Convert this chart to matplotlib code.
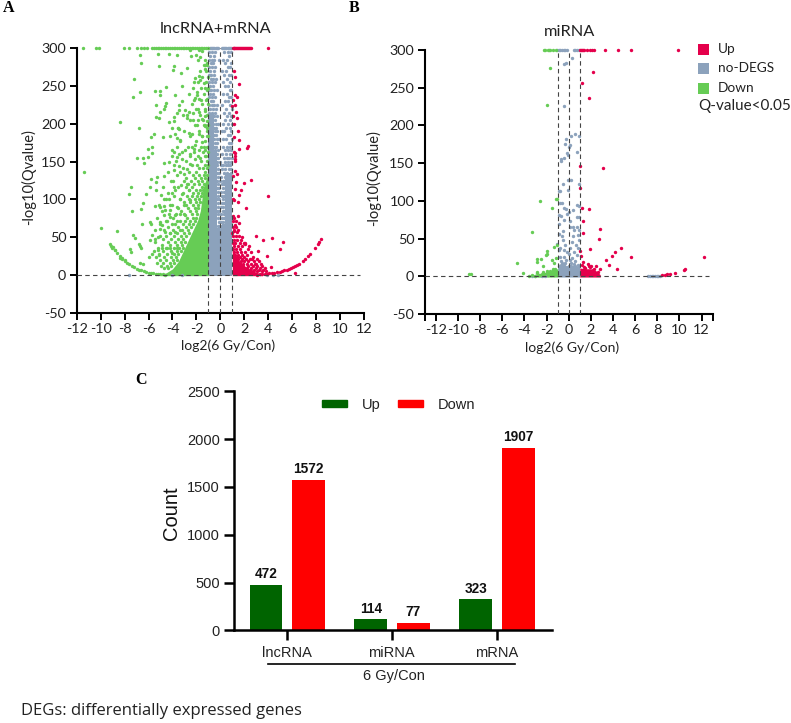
import matplotlib
matplotlib.use("Agg")
import matplotlib.pyplot as plt
from matplotlib.patches import Patch

plt.rcParams["axes.unicode_minus"] = False
W, H = 791, 723
UI = "Lato"
ARIAL = "Liberation Sans"
SERIF = "Liberation Serif"
RED, GRAY, GREEN = "#E4004B", "#8CA2BC", "#66CC55"

# ---------- Panel A: lncRNA+mRNA ----------
a_top_down_x = [-11.5,-10.36,-10.17,-8.06,-7.64,-6.94,-6.67,-6.39,-6.1,-5.7,-5.55,-5.4,-5.25,-5.1,-4.95,-4.8,-4.65,-4.5,-4.35,-4.2,-4.05,-3.9,-3.75,-3.6,-3.45,-3.3,-3.15,-3.0,-2.85,-2.7,-2.55,-2.4,-2.25,-2.1,-1.95,-1.8,-1.65,-1.5,-1.35,-1.2,-1.05]
a_top_up_x = [1.02,1.1,1.18,1.26,1.34,1.42,1.5,1.58,1.66,1.74,1.82,1.9,1.98,2.06,2.14,2.22,2.3,2.4,2.5,2.6,3.95]
a_top_gray_x = [-1.0,-0.9,-0.8,-0.7,-0.6,-0.5,-0.4,-0.3,-0.2,0.12,0.2,0.3,0.4,0.5,0.6,0.7,0.8,0.9]

a_down_x = [-6.68,-5.2,-4.3,-3.6,-2.5,-2.45,-2.0,-1.8,-1.5,-1.67,-6.62,-5.12,-3.9,-3.95,-2.78,-1.25,-1.1,-1.25,
 -7.24,-3.25,-1.8,-2.08,-2.2,-1.67,-1.4,-3.2,-5.0,-6.73,-7.32,-4.56,-5.45,-5.0,-3.8,-1.95,-1.25,-1.1,-1.95,-2.17,-2.1,-1.61,-1.16,-3.17,-3.48,
 -4.56,-5.37,-4.6,-4.67,-3.48,-5.07,-2.92,-2.64,-2.3,-1.89,-1.8,-1.25,-3.6,-5.34,-5.15,-3.9,-2.78,-2.28,-2.78,-4.31,-3.9,-8.35,-1.85,-1.5,-1.25,-1.1,-3.56,
 -1.95,-6.82,-4.03,-3.56,-3.42,-1.25,-1.1,-1.4,-2.64,-2.36,-5.57,-5.76,-4.8,-4.23,-3.76,-3.62,-3.34,-1.8,-1.5,-1.1,-1.5,-2.08,-2.36,-2.22,-1.4,-1.25,-1.8,
 -5.7,-6.04,-3.62,-4.03,-2.92,-3.9,-3.48,-6.96,-6.46,-6.04,-5.7,-4.03,-3.62,-3.2,-2.5,-2.08,-1.67,-1.25,
 -11.42,-6.35,-4.73,-4.3,-3.9,-3.48,-3.9,-3.34,-2.78,-2.5,-3.05,-5.76,-5.29,-4.67,-5.34,-7.43,-5.84,-7.65,-5.37,-6.2,-3.95,-3.9,-3.25,-2.78,-2.64,-3.2,-4.03,
 -4.93,-4.73,-4.3,-3.34,-2.5,-6.49,-6.62,-7.38,-5.43,-5.0,-4.73,-4.17,-4.6,-4.17,-3.62,-3.05,-4.73,-4.17,-3.76,-3.34,-2.92,-6.54,-5.84,-5.76,-5.07,-4.87,-4.45,-4.03,-3.62,
 -9.94,-8.6,-7.32,-7.15,-5.7,-5.0,-5.43,-4.6,-4.17,-3.76,-3.34,-5.84,-5.23,-6.82,-6.74,-6.62,-7.57,-7.5,-9.13,-9.05,-8.83,-8.35,-8.2,-7.93,-5.98,-5.7,-5.23,-5.15,-4.87,-4.45,-4.17,-4.03,-3.62,-6.68,-6.46]
a_down_y = [291,292,293,291,298,290,291,298,296,289,281,277,277,271,274,278,280,273,
 260,267,263,261,256,258,254,250,243,242,236,249,243,238,238,242,247,245,238,231,234,232,232,230,225,
 228,225,224,220,218,216,218,216,215,220,216,217,214,209,208,209,212,205,208,202,204,203,205,207,210,204,195,
 198,195,194,195,193,197,195,199,188,187,186,182,183,184,186,181,178,186,184,184,176,172,170,167,170,165,166,
 170,167,170,165,165,163,160,155,155,156,162,158,156,154,160,153,155,157,
 136,148,148,150,145,144,139,136,140,147,134,127,130,131,123,117,116,107,112,107,125,117,119,121,112,107,108,
 106,101,101,100,99,95,87,84,91,90,91,93,86,86,90,92,79,77,79,81,79,67,70,67,70,66,72,68,72,
 62,58,53,49,53,61,48,57,55,57,59,46,50,41,38,35,34,31,38,36,33,23,21,20,24,28,33,26,35,35,35,29,35,16,14]

# green dots of the busy zone, listed row by row (row height, x values on that row)
a_down_rows_y = [285,278,270,262,255,247,240,233,226,219,212,205,198,191,184,177,170,163,157,151,146,141,136,132,128,124,120,116,112,108,104,100,96,92,88,84,80,76,72,68,64,60,56,52,48,44,40,36,32,28,24,20,16,12,9]
a_down_rows_x = [
 [-1.3,-1.9],[-1.4,-1.15],[-1.7,-1.2],[-1.5,-1.05],[-1.9,-1.2],[-2.3,-1.6,-1.05],[-2.6,-1.35],[-1.8,-1.15],[-2.4,-1.5,-1.05],[-2.0,-1.3],
 [-3.1,-1.7,-1.1],[-2.5,-1.45],[-2.15,-1.25,-1.05],[-3.0,-1.75,-1.15],[-2.5,-1.5,-1.05],[-3.4,-2.0,-1.3],[-2.7,-1.65,-1.1],[-3.2,-2.2,-1.45,-1.05],[-2.55,-1.85,-1.2],[-3.7,-2.9,-1.6,-1.1],
 [-2.35,-1.95,-1.3,-1.05],[-3.1,-1.75,-1.45,-1.15],[-4.4,-2.6,-2.05,-1.25],[-3.6,-2.3,-1.8,-1.4,-1.15],[-2.85,-2.1,-1.6,-1.3],[-4.15,-3.0,-2.45,-1.9,-1.5],[-2.7,-2.2,-1.75,-1.35],[-4.8,-3.5,-2.9,-2.35,-1.55],[-3.75,-2.6,-2.05,-1.7,-1.45],[-4.4,-3.1,-2.25,-1.85,-1.55],
 [-3.85,-2.8,-2.35,-1.95,-1.65],[-4.55,-3.35,-2.65,-2.15,-1.75],[-3.0,-2.5,-2.0,-1.7],[-5.15,-4.05,-2.85,-2.3,-1.9],[-3.55,-2.7,-2.15,-1.85],[-4.85,-3.25,-2.55,-2.05],[-4.25,-3.7,-3.0,-2.35,-1.95],[-5.3,-3.95,-2.8,-2.3,-2.0],[-4.55,-3.4,-2.95,-2.5,-2.15],[-5.0,-3.8,-3.15,-2.6,-2.25],
 [-4.35,-3.5,-2.85,-2.45],[-5.5,-4.7,-3.95,-3.2,-2.7],[-4.2,-3.6,-3.05,-2.6],[-5.05,-4.5,-3.85,-3.3,-2.9],[-4.75,-4.1,-3.5,-3.1],[-5.45,-4.35,-3.75,-3.3,-2.95],[-4.9,-4.2,-3.6,-3.2],[-5.25,-4.55,-3.9,-3.45,-3.1],[-5.55,-4.75,-4.15,-3.65,-3.3],[-5.1,-4.45,-3.9,-3.5],
 [-5.4,-4.7,-4.1,-3.7],[-5.05,-4.5,-3.95,-3.6],[-5.3,-4.75,-4.2,-3.85],[-4.95,-4.45,-4.1],[-4.7,-4.35]]
a_curve_l_x = [-9.2,-9.0,-8.8,-8.6,-8.4,-8.2,-8.0,-7.8,-7.6,-7.4,-7.2,-7.0,-6.8,-6.6,-6.4,-6.2,-6.0,-5.8,-5.6,-5.4,-5.2,-5.0,-4.8,-4.6]
a_curve_l_y = [41,37,33,29,25,22,19,16,14,12,10,8.5,7,6,5,4,3.2,2.6,2,1.6,1.2,0.9,0.6,0.3]

# grey dots listed row by row
a_gray_rows_y = [295,290,285,280,275,270,265,260,255,250,245,240,235,230,225,220,215,210,205,200,195,190,185,180,175,170,165,160,155,150,145,140,135,130,125,120,115,110,105,100,95,90,85,80,75,70,65]
a_gray_rows_x = [
 [-0.95,-0.7,-0.45,0.3,0.62,0.85],[-0.85,-0.55,0.75],[-0.98,-0.72,-0.5,-0.15,0.2,0.55],[-0.8,-0.6,0.35,0.9],[-0.95,-0.68,-0.42,0.62,0.8],[-0.85,-0.55,0.12,0.45],[-0.98,-0.75,-0.5,0.3,0.72,0.92],[-0.82,-0.6,-0.35,0.55],[-0.95,-0.7,-0.48,0.2,0.82],[-0.88,-0.62,0.4,0.65],
 [-0.98,-0.75,-0.52,-0.3,0.78,0.92],[-0.85,-0.6,0.25,0.55],[-0.95,-0.7,-0.45,0.7,0.88],[-0.82,-0.58,0.35,0.6],[-0.98,-0.72,-0.5,-0.28,0.15,0.82],[-0.88,-0.62,-0.38,0.5,0.95],[-0.95,-0.7,-0.45,0.3,0.72],[-0.85,-0.55,-0.32,0.58,0.88],[-0.98,-0.72,-0.48,0.42,0.8],[-0.62,-0.4,-0.22,0.2,0.65,0.95],
 [-0.52,-0.34,0.48,0.78],[-0.48,-0.28,0.1,0.32,0.9],[-0.55,-0.38,0.6,0.82],[-0.5,-0.3,-0.15,0.25,0.45,0.95],[-0.44,-0.26,0.7,0.88],[-0.52,-0.36,0.18,0.52,0.78],[-0.46,-0.22,0.35,0.62,0.92],[-0.4,-0.28,0.12,0.45,0.82],[-0.34,-0.18,0.28,0.58,0.72,0.95],[-0.26,-0.05,0.4,0.68,0.88],
 [-0.24,0.05,0.22,0.5,0.62,0.8],[-0.2,0.12,0.36,0.72,0.92],[-0.26,-0.1,0.28,0.55,0.85],[-0.18,0.08,0.4,0.62],[-0.24,-0.05,0.2,0.34],[-0.2,0.1,0.3],[-0.26,-0.12,0.24],[-0.18,0.05,0.3],[-0.22,0.15,0.32],[-0.25,-0.08,0.22],
 [-0.16,0.1,0.3],[-0.22,0.02,0.26],[-0.26,-0.1,0.18,0.32],[-0.18,0.06,0.28],[-0.22,0.12,0.3],[-0.12,0.04,0.24],[-0.2,-0.04,0.16]]
a_gray_zero_x = [-7.6,-4.0,-3.2,3.9,4.4,4.8]
a_gray_zero_y = [0,0,0,0,0,0]

a_up_x = [1.12,1.25,1.53,1.25,1.39,1.03,1.23,1.0,1.31,1.03,1.39,1.17,1.48,1.12,1.53,2.29,2.23,1.53,1.12,1.25,1.2,1.25,
 1.25,1.2,1.39,1.06,2.59,1.34,1.95,1.73,1.23,1.53,3.98,1.03,1.17,1.45,2.17,1.03,1.48,1.12,1.59,1.25,1.06,1.34,1.12,1.39,1.0,2.98,1.81,3.57,4.29,5.27,4.96,1.95,2.09,2.37,3.18,3.87,2.65,3.2,2.9,4.26,6.27]
a_up_y = [270,262,253,238,236,232,225,223,216,210,208,200,191,182,178,171,168,167,163,161,158,154,
 151,138,134,131,126,123,122,112,114,106,104,100,99,97,89,78,78,76,69,66,64,63,58,57,55,52,50,46,49,44,34,42,41,38,32,25,21,19,15,11,3]
a_up_rows_y = [72,60,52,46,42,38,34,30,27,24,21,18,15,12,9,7,5]
a_up_rows_x = [[1.05,1.3],[1.1,1.5],[1.05,1.28,1.55],[1.1,1.4,1.75],[1.05,1.25,1.6,2.1],[1.15,1.45,1.8],[1.05,1.3,1.6,2.3],[1.1,1.4,1.7,2.05,2.55],[1.2,1.5,1.85,2.25],[1.05,1.35,1.65,1.95,2.7],[1.2,1.5,1.8,2.15,2.45,3.1],[1.4,1.7,2.0,2.35,2.8],[1.6,1.9,2.2,2.6,3.0,3.4],[1.9,2.3,2.7,3.05,3.5],[2.2,2.6,2.95,3.3,3.75],[2.5,2.85,3.2,3.55],[2.7,3.1,3.45,3.85]]
a_curve_r_x = [8.39,8.22,8.13,7.91,7.52,7.3,7.05,6.88,6.6,6.4,6.27,6.05,5.9,5.7,5.57,5.35,5.15,4.95,4.74,4.5,4.3,4.1,3.9,3.7,3.5,3.3,3.07]
a_curve_r_y = [47,43,41,36,28,25,21,19,15,13,12,10,9,8,7,6,5,4.2,3.6,3,2.7,2.2,1.8,1.4,1,0.8,0.5]

# envelopes of the areas where the dots merge into a solid mass
a_down_mass_x = [-5.0,-4.5,-4.0,-3.5,-3.0,-2.5,-2.2,-1.9,-1.67,-1.4,-1.0]
a_down_mass_y = [0,3,8,18,35,52,62,72,85,117,135]
a_up_mass_x = [1.0,1.2,1.5,2.0,2.5,3.0,3.5]
a_up_mass_y = [35,27,20,12,7,3.5,1]
a_gray_mass_x = [-1.0,-0.5,-0.28,0.1,0.35,1.0]
a_gray_mass_y = [215,165,62,68,135,135]

# ---------- Panel B: miRNA ----------
b_top_down_x = [-2.25,-2.15,-1.9,-1.8,-1.65,-1.44,-1.14]
b_top_gray_x = [-1.05,-0.9,-0.75,-0.6,-0.45,-0.3,-0.15,0.45,0.6,0.75,0.9]
b_top_up_x = [1.0,1.1,1.2,1.3,1.4,1.65,1.9,2.07,2.3,3.3,4.46,5.63,9.85]
b_down_x = [-1.65,-1.98,-2.55,-1.17,-1.05,-1.5,-3.35,-1.29,-1.05,-4.7,-4.16,-1.95,-1.95,-2.04,-2.9,-2.9,-2.49,-1.47,-1.35,-1.14,-2.3,-2.84,-2.84,-9.04,-8.83,
 -3.6,-3.3,-3.0,-2.8,-2.6,-2.4,-2.2,-2.0,-1.8,-1.6,-1.5,-1.3,-1.1,-2.3,-2.0,-1.7,-1.45,-1.2,-1.9,-1.6,-1.3,-1.1,-1.4,-1.2]
b_down_y = [276,227,100,102,103,91,59,39,42,17,5,34,30,28,23,19,23,22,17,24,14,6,4,3,2.6,
 1,1.5,1,2,2,3,3,4,4,4,5,5,6,6,7,7,8,8,1.5,2,2,3,9,10]
b_gray_x = [0.3,-0.21,-0.45,-0.45,0.6,0.96,0.18,-0.21,-0.36,0.15,0.06,-0.15,-0.1,0.75,-0.45,-0.66,-0.69,-0.51,-0.06,0.21,-0.9,-0.75,-0.09,0.9,-0.81,-0.6,-0.45,-0.24,0.75,0.96,0.36,0.06,-0.15,-0.9,-0.66,0.75,-0.45,0.15,0.9,-0.9,0.15,0.39,0.45,-0.51,0.75,0.9,-0.9,-0.6,0.39,0.84,-1.05,-0.54,0.3,0.9,-0.3,-0.75,0.15,0.69,-0.9,-0.45,-0.15,0.45,0.84,-0.81,-0.45,0.0,0.3,0.75,-0.7,-0.3,0.1,0.6,
 -3.3,-3.0,-2.7,-2.4,-2.1,7.2,7.35,7.5,7.65,7.8,7.95,8.1,8.2,-0.6,-0.2,0.2,0.5,0.85,-0.9,-0.4,0.0,0.6]
b_gray_y = [289,283,281,226,188,186,186,182,176,174,172,163,161,165,157,155,153,122,128,128,113,113,114,122,97,97,90,89,94,93,88,85,82,81,80,79,74,73,79,69,66,66,61,60,66,61,56,53,53,55,43,48,46,48,41,38,38,41,35,35,32,32,37,26,26,29,24,28,20,18,22,20,
 1,1,2,1,1,0.5,0.5,0.5,1,0.5,1,0.5,1,18,21,17,16,15,14,16,13,14]
b_up_x = [1.02,3.14,2.16,1.2,1.83,0.99,1.23,1.83,1.26,1.29,2.84,2.75,1.89,1.05,1.1,1.26,1.2,4.73,4.16,3.95,3.41,3.6,4.34,5.66,12.2,10.4,10.5,9.6,9.13,8.9,8.7,8.4,
 1.8,1.9,2.05,2.3,2.5,1.5,2.65,2.8,1.35,1.7,2.2]
b_up_y = [146,144,271,256,236,117,91,89,73,58,63,49,36,33,27,19,15,38,32,27,21,15,9,25,26,8,9,4,3,2.7,2,1.3,
 14,12,13,9,13,11,6,9,12,16,8]
b_gray_mass_x = [-1.0,-0.6,-0.2,0.2,0.6,1.0]
b_gray_mass_y = [15,18,14,16,13,15]
b_down_mass_x = [-3.3,-2.6,-2.0,-1.5,-1.0]
b_down_mass_y = [1,3,6,8,10]
b_up_mass_x = [1.0,1.5,2.0,2.5,2.85]
b_up_mass_y = [11,10,10,7,2]

# ---------- Panel C: counts ----------
categories = ["lncRNA", "miRNA", "mRNA"]
up_counts = [472, 114, 323]
down_counts = [1572, 77, 1907]

y_ticks_volcano = [-50, 0, 50, 100, 150, 200, 250, 300]
x_ticks_volcano = [-12, -10, -8, -6, -4, -2, 0, 2, 4, 6, 8, 10, 12]
y_ticks_bar = [0, 500, 1000, 1500, 2000, 2500]
MS = 6.0

fig = plt.figure(figsize=(W / 100, H / 100), dpi=100)


def axes_px(left, right, top, bottom):
    return fig.add_axes([left / W, 1 - bottom / H, (right - left) / W, (bottom - top) / H])


def ftext(x, y, s, **kw):
    fig.text(x / W, 1 - y / H, s, **kw)


def flatten(rows_y, rows_x):
    xs, ys = [], []
    for yv, row in zip(rows_y, rows_x):
        xs.extend(row)
        ys.extend([yv] * len(row))
    return xs, ys


def style_volcano(ax, xlim, title, title_xy, xl_xy, yl_xy):
    ax.set_xlim(*xlim)
    ax.set_ylim(-50, 300)
    ax.set_yticks(y_ticks_volcano)
    ax.set_xticks(x_ticks_volcano)
    ax.tick_params(length=5, width=1.4, color="black", labelsize=10.4, pad=2.5)
    for lab in ax.get_xticklabels() + ax.get_yticklabels():
        lab.set_family(UI)
        lab.set_color("#222222")
    for s in ("top", "right"):
        ax.spines[s].set_visible(False)
    for s in ("left", "bottom"):
        ax.spines[s].set_linewidth(1.5)
    ftext(*title_xy, title, family=UI, fontsize=11.8, ha="center", va="center", color="#222222")
    ftext(*xl_xy, "log2(6 Gy/Con)", family=UI, fontsize=10, ha="center", va="center", color="#222222")
    ftext(*yl_xy, "-log10(Qvalue)", family=UI, fontsize=10.5, ha="center", va="center", rotation=90, color="#222222")
    for v in (-1, 0, 1):
        ax.axvline(v, color="#444444", lw=0.8, dashes=(4, 3), zorder=6)
    ax.plot([xlim[0], xlim[1] * 0.975], [0, 0], color="#444444", lw=0.8, dashes=(4, 3), zorder=6, clip_on=False)


def dots(ax, xs, ys, c, z=3):
    ax.scatter(xs, ys, s=MS, c=c, linewidths=0, zorder=z, clip_on=False)


# ---- A ----
axA = axes_px(76.7, 364, 48.3, 312.7)
axA.fill_between(a_gray_mass_x, -2, a_gray_mass_y, step="post", color=GRAY, lw=0, zorder=2)
axA.fill_between(a_down_mass_x, -1, a_down_mass_y, color=GREEN, lw=0, zorder=2)
axA.fill_between(a_up_mass_x, -1, a_up_mass_y, color=RED, lw=0, zorder=2)
dots(axA, *flatten(a_gray_rows_y, a_gray_rows_x), GRAY)
dots(axA, a_gray_zero_x, a_gray_zero_y, GRAY)
dots(axA, a_top_gray_x, [300] * len(a_top_gray_x), GRAY)
dots(axA, a_top_down_x, [300] * len(a_top_down_x), GREEN)
dots(axA, a_top_up_x, [300] * len(a_top_up_x), RED)
dots(axA, a_down_x, a_down_y, GREEN)
dots(axA, *flatten(a_down_rows_y, a_down_rows_x), GREEN)
dots(axA, a_curve_l_x, a_curve_l_y, GREEN)
dots(axA, a_up_x, a_up_y, RED)
dots(axA, *flatten(a_up_rows_y, a_up_rows_x), RED)
dots(axA, a_curve_r_x, a_curve_r_y, RED)
style_volcano(axA, (-12, 12), "lncRNA+mRNA", (216, 29), (228, 346), (29, 177))

# ---- B ----
axB = axes_px(424.7, 712.7, 50, 314)
axB.fill_between(b_gray_mass_x, -1, b_gray_mass_y, color=GRAY, lw=0, zorder=2)
axB.fill_between(b_down_mass_x, -1, b_down_mass_y, color=GREEN, lw=0, zorder=2)
axB.fill_between(b_up_mass_x, -1, b_up_mass_y, color=RED, lw=0, zorder=2)
dots(axB, b_gray_x, b_gray_y, GRAY)
dots(axB, b_top_gray_x, [300] * len(b_top_gray_x), GRAY)
dots(axB, b_top_down_x, [300] * len(b_top_down_x), GREEN)
dots(axB, b_top_up_x, [300] * len(b_top_up_x), RED)
dots(axB, b_down_x, b_down_y, GREEN)
dots(axB, b_up_x, b_up_y, RED)
style_volcano(axB, (-13, 13), "miRNA", (570, 32), (572, 348), (374, 178))
axB.set_xticks([-13, 13], minor=True)
axB.tick_params(which="minor", length=5, width=1.4)

# legend of A/B
for yy, col, lab in ((49, RED, "Up"), (68, GRAY, "no-DEGS"), (88, GREEN, "Down")):
    fig.patches.append(plt.Rectangle((697.5 / W, 1 - (yy + 5.5) / H), 11.5 / W, 11 / H, transform=fig.transFigure, fc=col, ec="none"))
    ftext(718, yy, lab, family=UI, fontsize=9.8, va="center", color="#222222")
ftext(698, 106, "Q-value<0.05", family=UI, fontsize=11, va="center", color="#222222")

# ---- C ----
axC = axes_px(234, 552, 391.3, 630.3)
bar_x = list(range(len(categories)))
w = 0.313
up_pos = [i - 0.2 for i in bar_x]
down_pos = [i + 0.205 for i in bar_x]
axC.bar(up_pos, up_counts, w, color="#006400", label="Up")
axC.bar(down_pos, down_counts, w, color="#FF0000", label="Down")
for xs, vals in ((up_pos, up_counts), (down_pos, down_counts)):
    for xp, v in zip(xs, vals):
        axC.annotate(str(v), (xp, v), xytext=(0, 2.8), textcoords="offset points", ha="center", va="bottom",
                     family=ARIAL, fontweight="bold", fontsize=9.8, color="#111111")
axC.set_xlim(-0.506, 2.528)
axC.set_ylim(0, 2500)
axC.set_yticks(y_ticks_bar)
axC.set_xticks(bar_x)
axC.set_xticklabels(categories)
axC.tick_params(axis="y", length=7, width=1.8, labelsize=10.5, pad=3)
axC.tick_params(axis="x", length=7, width=1.8, labelsize=10.5, pad=4)
for lab in axC.get_xticklabels() + axC.get_yticklabels():
    lab.set_family(ARIAL)
    lab.set_color("#222222")
for s in ("top", "right"):
    axC.spines[s].set_visible(False)
for s in ("left", "bottom"):
    axC.spines[s].set_linewidth(1.8)
ftext(171, 513, "Count", family=ARIAL, fontsize=14.5, rotation=90, ha="center", va="center", color="#111111")
ftext(394, 676, "6 Gy/Con", family=ARIAL, fontsize=10.5, ha="center", va="center", color="#222222")
fig.add_artist(plt.Line2D([268 / W, 515 / W], [1 - 664.3 / H] * 2, color="black", lw=1.2))
handles = [Patch(color="#006400", label="Up"), Patch(color="#FF0000", label="Down")]
leg = fig.legend(handles=handles, loc="center", bbox_to_anchor=(398.5 / W, 1 - 404.7 / H), ncols=2, frameon=False,
                 prop={"family": ARIAL, "size": 10.5}, handlelength=1.75, handleheight=0.4, handletextpad=1.0, columnspacing=1.2,
                 labelcolor="#222222")

ftext(21, 711, "DEGs: differentially expressed genes", family="Open Sans", fontsize=12, va="center", color="#222222")
ftext(3, 8, "A", family=SERIF, fontweight="bold", fontsize=11.5, va="center")
ftext(349, 8, "B", family=SERIF, fontweight="bold", fontsize=11.5, va="center")
ftext(135, 380, "C", family=SERIF, fontweight="bold", fontsize=11.5, va="center")

fig.savefig("out.png", dpi=100)
